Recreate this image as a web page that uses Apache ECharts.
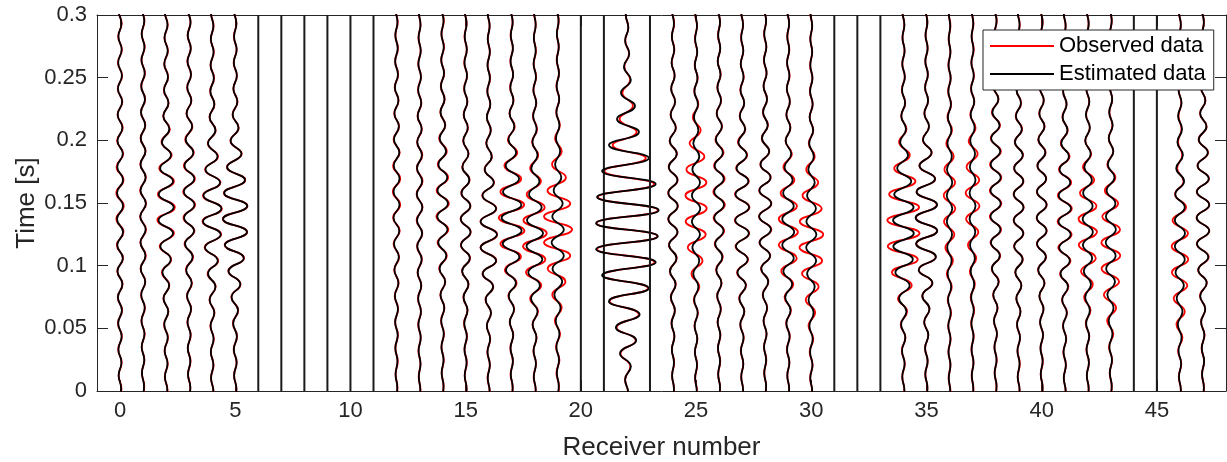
<!DOCTYPE html>
<html>
<head>
<meta charset="utf-8">
<script src="https://cdn.jsdelivr.net/npm/echarts@6/dist/echarts.min.js"></script>
<style>
  html, body { margin: 0; padding: 0; background: #fff; }
  #chart { width: 1227px; height: 462px; }
</style>
</head>
<body>
<div id="chart"></div>
<script>
// receiver positions and the ones with no data (drawn as flat lines)
const receivers = [];
for (let r = 0; r <= 47; r++) receivers.push(r);
const deadReceivers = [6, 7, 8, 9, 10, 11, 20, 21, 23, 31, 32, 33, 44, 45];

const xTickLabels = [0, 5, 10, 15, 20, 25, 30, 35, 40, 45];
const yTickLabels = [0, 0.05, 0.1, 0.15, 0.2, 0.25, 0.3];

// time between successive wiggle extrema [s], and time shift of each trace [ms]
const halfPeriod = 0.0104;
const phaseMs = [2, 4, 1, 3, 0, 2, 0, 0, 0, 0, 0, 0, 3, 1, 4, 2, 0, 3, 1, 4, 0, 0, -1.3, 0,
                 2, 0, 3, 1, 4, 2, 0, 0, 0, 0, 1, 3, 0, 2, 4, 1, 3, 0, 2, 4, 0, 0, 1, 3];

// size of each extremum (left/right alternating), bottom to top, in 1/100 receiver spacing
// observed data (red)
const obs0  = [6,6,7,8,8,9,9,10,11,12,13,14,15,16,16,16,15,15,14,13,12,11,10,10,9,9,8,8,7,7];
const obs1  = [5,5,6,6,7,7,8,9,10,11,12,12,13,13,13,13,12,12,11,11,10,9,9,8,8,7,7,6,6,5];
const obs2  = [6,6,7,7,8,9,10,12,14,18,22,28,34,38,38,36,34,30,24,20,16,13,11,10,9,8,8,7,7,6];
const obs3  = [5,5,6,6,7,8,9,10,12,14,17,20,23,25,26,26,25,23,20,17,14,12,10,9,8,8,7,7,6,6];
const obs4  = [5,5,6,6,7,8,10,12,15,20,26,33,39,42,42,40,36,31,25,19,15,12,10,9,8,7,7,6,6,5];
const obs5  = [5,5,6,7,8,10,13,17,23,30,38,46,52,54,53,49,43,36,28,21,15,12,10,8,7,7,6,6,5,5];
const obs12 = [4,4,5,5,6,6,7,8,9,10,11,13,14,15,16,16,16,15,14,13,11,10,9,8,7,6,6,5,5,4];
const obs13 = [4,4,4,5,5,6,6,7,8,9,10,11,12,13,13,13,13,12,12,11,10,9,8,7,6,6,5,5,4,4];
const obs14 = [4,4,5,5,6,7,8,10,12,15,18,22,25,27,27,26,24,21,18,15,12,10,9,8,7,6,6,5,5,4];
const obs15 = [4,4,5,5,6,7,8,10,13,16,19,21,22,22,21,19,17,15,13,11,10,9,8,7,6,6,5,5,4,4];
const obs16 = [4,5,5,6,7,8,10,14,20,27,33,36,37,36,33,28,23,18,14,11,9,8,7,6,6,5,5,4,4,4];
const obs17 = [4,5,5,6,7,9,11,15,21,30,40,49,55,56,54,49,41,32,24,17,13,10,8,7,6,6,5,5,4,4];
const obs18 = [4,5,5,6,8,10,14,20,28,38,46,51,52,49,43,35,27,20,15,12,10,8,7,6,6,5,5,4,4,4];
const obs19 = [5,6,7,8,10,13,17,24,33,44,54,60,62,60,54,45,35,25,17,12,9,7,6,6,5,5,4,4,4,4];
const obs22 = [5,8,15,28,38,45,52,75,92,105,120,130,132,132,134,126,118,98,82,62,42,32,26,20,14,11,9,7,6,5];
const obs24 = [4,4,5,5,6,7,8,10,12,14,16,18,20,21,21,21,20,19,17,15,13,11,9,8,7,6,6,5,5,4];
const obs25 = [4,4,5,5,6,7,8,10,14,20,28,36,42,45,46,46,45,42,36,28,20,14,10,8,7,6,5,5,4,4];
const obs26 = [4,4,5,5,6,7,8,9,11,13,16,19,22,24,25,25,24,22,19,16,13,11,9,8,7,6,5,5,4,4];
const obs27 = [4,4,5,6,7,8,10,13,17,22,26,29,31,32,32,31,29,26,22,18,14,11,9,8,7,6,5,5,4,4];
const obs28 = [4,4,5,5,6,7,9,11,14,18,22,25,27,27,27,26,24,21,18,15,12,10,8,7,6,6,5,5,4,4];
const obs29 = [4,4,5,6,7,9,12,16,22,30,37,41,42,41,38,33,27,21,16,12,10,8,7,6,6,5,5,4,4,4];
const obs30 = [4,5,6,7,9,12,17,24,32,40,47,51,52,50,45,38,30,22,15,11,9,7,6,6,5,5,4,4,4,4];
const obs34 = [4,5,6,7,9,12,16,24,36,50,62,68,70,70,68,62,52,40,28,19,13,10,8,7,6,5,5,4,4,4];
const obs35 = [4,5,5,6,8,10,13,18,25,33,40,44,46,46,45,43,38,31,23,16,11,9,7,6,6,5,5,4,4,4];
const obs36 = [4,4,4,5,5,6,7,8,10,12,15,18,21,24,25,25,24,22,18,14,11,9,7,6,5,5,4,4,4,3];
const obs37 = [4,4,4,5,5,6,7,8,10,12,16,20,25,28,30,30,29,26,22,17,13,10,8,7,6,5,5,4,4,4];
const obs38 = [4,4,5,5,6,7,9,11,14,17,20,22,24,25,25,25,25,24,23,21,19,16,13,11,9,7,6,5,5,4];
const obs39 = [4,4,5,5,6,7,8,10,12,15,18,20,21,22,22,22,21,20,19,17,15,13,11,9,8,7,6,5,5,4];
const obs40 = [4,4,5,5,6,7,8,10,13,16,19,21,22,22,22,21,20,19,17,15,13,11,9,8,7,6,5,5,4,4];
const obs41 = [4,4,5,6,7,8,10,12,16,20,25,28,30,31,31,30,28,25,21,17,13,10,8,7,6,5,5,4,4,4];
const obs42 = [4,4,5,6,7,9,12,16,22,29,35,39,40,40,38,34,28,21,15,11,9,7,6,6,5,5,4,4,4,4];
const obs43 = [4,5,6,8,11,16,23,30,36,40,41,41,40,37,32,26,20,15,11,9,7,6,6,5,5,4,4,4,4,4];
const obs46 = [4,5,6,8,11,15,21,27,32,35,36,36,35,32,27,21,16,12,10,8,7,6,6,5,5,4,4,4,4,4];
const obs47 = [4,4,5,6,7,8,10,13,17,21,25,27,28,28,28,27,26,24,22,19,16,13,11,9,7,6,5,5,4,4];

// estimated data (black)
const est0  = [5,6,6,7,7,8,8,9,10,11,12,12,13,13,13,13,13,12,12,11,10,10,9,9,8,8,7,7,6,6];
const est1  = [4,5,5,6,6,7,7,8,9,10,10,11,11,12,12,11,11,11,10,10,9,9,8,8,7,7,6,6,5,5];
const est2  = [5,5,6,6,7,8,9,11,13,16,20,25,30,33,33,32,30,26,21,18,14,12,10,9,8,8,7,7,6,6];
const est3  = [5,5,5,6,6,7,8,9,11,13,15,18,21,22,23,23,22,20,18,15,13,11,9,8,8,7,7,6,6,5];
const est4  = [5,5,5,6,6,7,9,11,14,18,24,31,37,40,40,38,34,29,23,18,14,11,9,8,7,7,6,6,5,5];
const est5  = [5,5,6,6,7,9,12,16,22,29,37,45,51,53,52,48,42,35,27,20,14,11,9,8,7,6,6,5,5,5];
const est12 = [3,4,4,5,5,6,6,7,8,9,10,11,12,13,13,13,13,12,12,11,10,9,8,7,6,6,5,5,4,4];
const est13 = [3,3,4,4,5,5,6,6,7,8,9,10,11,11,12,12,11,11,10,10,9,8,7,6,6,5,5,4,4,3];
const est14 = [4,4,4,5,5,6,7,9,11,13,16,19,21,23,23,22,20,18,15,13,11,9,8,7,6,6,5,5,4,4];
const est15 = [4,4,4,5,5,6,8,9,12,15,18,20,21,21,20,18,16,14,12,10,9,8,7,6,6,5,5,4,4,4];
const est16 = [4,4,5,5,6,8,10,13,19,26,32,35,36,35,32,27,22,17,13,10,9,8,7,6,5,5,5,4,4,4];
const est17 = [4,4,5,5,6,8,10,13,18,25,33,39,43,44,42,38,32,26,19,14,11,9,7,6,6,5,5,4,4,4];
const est18 = [4,4,5,5,7,9,12,16,22,28,33,36,36,34,30,25,20,15,12,10,8,7,6,6,5,5,4,4,4,3];
const est19 = [4,4,5,6,7,9,12,15,19,23,26,27,26,24,21,18,15,12,10,8,7,6,6,5,5,4,4,4,3,3];
const est22 = [5,8,17,30,40,48,55,78,95,108,125,134,134,134,138,130,125,108,95,78,52,43,35,26,17,13,10,8,6,5];
const est24 = [4,4,4,5,6,6,8,9,11,13,15,17,19,20,20,20,19,18,16,14,12,10,9,8,7,6,5,5,4,4];
const est25 = [3,4,4,5,5,6,7,8,10,12,14,16,17,18,18,18,17,16,14,12,10,9,8,7,6,5,5,4,4,3];
const est26 = [4,4,4,5,5,6,7,8,10,12,14,17,19,21,21,21,20,19,16,14,12,10,8,7,6,6,5,4,4,4];
const est27 = [4,4,5,5,6,8,9,12,16,20,24,27,29,30,30,29,27,24,20,16,13,10,9,7,6,6,5,4,4,4];
const est28 = [4,4,4,5,6,7,8,10,13,17,21,24,25,26,26,25,23,20,17,14,11,9,8,7,6,5,5,4,4,4];
const est29 = [4,4,5,5,6,8,10,13,17,21,24,26,26,26,24,22,19,16,13,11,9,8,7,6,5,5,4,4,4,4];
const est30 = [4,4,5,5,6,8,10,12,15,18,21,22,22,21,20,18,15,13,11,9,8,7,6,5,5,4,4,4,4,3];
const est34 = [4,5,5,6,8,10,13,19,27,35,41,44,45,45,44,40,34,27,20,14,11,9,7,6,6,5,5,4,4,4];
const est35 = [4,5,5,6,8,10,13,18,26,34,41,45,47,47,46,43,37,30,22,15,11,9,7,6,6,5,5,4,4,4];
const est36 = [3,3,4,4,4,5,5,6,7,8,9,10,11,12,12,12,12,11,10,9,8,7,6,5,5,4,4,3,3,3];
const est37 = [3,3,4,4,4,5,5,6,7,8,10,11,12,13,13,13,13,12,11,10,9,8,7,6,5,5,4,4,3,3];
const est38 = [4,4,4,5,6,7,8,10,13,16,18,20,21,22,22,22,22,21,20,19,17,14,12,10,8,7,6,5,4,4];
const est39 = [4,4,4,5,6,7,8,10,12,14,17,19,20,21,21,21,20,19,18,16,14,12,10,9,8,7,6,5,4,4];
const est40 = [4,4,4,5,6,7,8,10,12,15,18,20,21,21,21,20,19,18,16,14,12,10,9,8,7,6,5,4,4,4];
const est41 = [4,4,5,5,6,7,9,11,14,18,22,24,26,27,27,26,24,22,18,15,12,9,8,7,6,5,5,4,4,4];
const est42 = [4,4,5,5,6,7,9,11,14,17,19,21,22,22,21,20,18,15,13,11,9,8,7,6,5,5,4,4,4,4];
const est43 = [4,4,5,6,7,9,12,15,18,20,21,22,22,21,20,18,16,13,11,9,8,7,6,5,5,4,4,4,4,3];
const est46 = [4,4,5,6,7,9,11,14,17,19,21,22,22,22,21,20,18,16,13,11,9,8,7,6,5,5,4,4,4,4];
const est47 = [4,4,5,5,6,8,10,12,16,20,23,26,27,27,27,26,25,23,21,18,15,12,10,8,7,6,5,4,4,4];

const observed = {0: obs0, 1: obs1, 2: obs2, 3: obs3, 4: obs4, 5: obs5, 12: obs12, 13: obs13,
  14: obs14, 15: obs15, 16: obs16, 17: obs17, 18: obs18, 19: obs19, 22: obs22, 24: obs24,
  25: obs25, 26: obs26, 27: obs27, 28: obs28, 29: obs29, 30: obs30, 34: obs34, 35: obs35,
  36: obs36, 37: obs37, 38: obs38, 39: obs39, 40: obs40, 41: obs41, 42: obs42, 43: obs43,
  46: obs46, 47: obs47};
const estimated = {0: est0, 1: est1, 2: est2, 3: est3, 4: est4, 5: est5, 12: est12, 13: est13,
  14: est14, 15: est15, 16: est16, 17: est17, 18: est18, 19: est19, 22: est22, 24: est24,
  25: est25, 26: est26, 27: est27, 28: est28, 29: est29, 30: est30, 34: est34, 35: est35,
  36: est36, 37: est37, 38: est38, 39: est39, 40: est40, 41: est41, 42: est42, 43: est43,
  46: est46, 47: est47};

// wiggle trace: extrema alternate right/left of the receiver position
function traceData(r, amps) {
  if (!amps) return [[r, 0], [r, 0.3]];
  const pts = [];
  const t0 = phaseMs[r] / 1000;
  for (let k = -1; k <= amps.length; k++) {
    const a = amps[Math.min(Math.max(k, 0), amps.length - 1)] / 100;
    const side = (k % 2 === 0) ? 1 : -1;
    pts.push([r + side * a, t0 + k * halfPeriod]);
  }
  return pts;
}

const axisColor = '#262626';
const font = '"Liberation Sans", Arial, Helvetica, sans-serif';

const series = [];
receivers.forEach(r => {
  const dead = deadReceivers.indexOf(r) >= 0;
  if (!dead) {
    series.push({
      name: 'Observed data', type: 'line', data: traceData(r, observed[r]),
      smooth: 0.5, symbol: 'none', color: '#ff0000',
      lineStyle: { color: '#ff0000', width: 1.8 }, z: 2
    });
  }
  series.push({
    name: 'Estimated data', type: 'line', data: traceData(r, dead ? null : estimated[r]),
    smooth: 0.5, symbol: 'none', color: '#000000',
    lineStyle: { color: dead ? '#1a1a1a' : '#000000', width: dead ? 2 : 1.8 }, z: 3
  });
});

const chart = echarts.init(document.getElementById('chart'));
chart.setOption({
  animation: false,
  backgroundColor: '#ffffff',
  textStyle: { fontFamily: font },
  grid: { left: 97, top: 15, width: 1129, height: 376, containLabel: false, outerBoundsMode: 'none' },
  legend: {
    data: ['Observed data', 'Estimated data'],
    orient: 'vertical',
    left: 983, top: 30,
    backgroundColor: '#ffffff',
    borderColor: axisColor, borderWidth: 1,
    padding: [5, 8, 5, 7],
    itemGap: 6,
    itemWidth: 64, itemHeight: 2,
    icon: 'rect',
    textStyle: { fontSize: 22, color: '#000', fontFamily: font }
  },
  xAxis: [{
    type: 'value', min: -1, max: 48,
    name: 'Receiver number', nameLocation: 'middle', nameGap: 44, nameMoveOverlap: false,
    nameTextStyle: { fontSize: 26, color: axisColor, fontFamily: font },
    axisLine: { onZero: false, lineStyle: { color: axisColor, width: 1 } },
    axisTick: { inside: true, length: 11, customValues: xTickLabels, lineStyle: { color: axisColor } },
    axisLabel: { customValues: xTickLabels, fontSize: 22, color: axisColor, margin: 9 },
    splitLine: { show: false }
  }, {
    type: 'value', min: -1, max: 48, position: 'top',
    axisLine: { onZero: false, lineStyle: { color: axisColor, width: 1 } },
    axisTick: { inside: true, length: 11, customValues: xTickLabels, lineStyle: { color: axisColor } },
    axisLabel: { show: false },
    splitLine: { show: false }
  }],
  yAxis: [{
    type: 'value', min: 0, max: 0.3, interval: 0.05,
    name: 'Time [s]', nameLocation: 'middle', nameGap: 57, nameMoveOverlap: false,
    nameTextStyle: { fontSize: 26, color: axisColor, fontFamily: font },
    axisLine: { onZero: false, lineStyle: { color: axisColor, width: 1 } },
    axisTick: { inside: true, length: 11, lineStyle: { color: axisColor } },
    axisLabel: {
      fontSize: 22, color: axisColor, margin: 10,
      formatter: v => {
        const hit = yTickLabels.find(t => Math.abs(t - v) < 1e-9);
        return hit === undefined ? '' : String(hit);
      }
    },
    splitLine: { show: false }
  }, {
    type: 'value', min: 0, max: 0.3, interval: 0.05, position: 'right',
    axisLine: { onZero: false, lineStyle: { color: axisColor, width: 1 } },
    axisTick: { inside: true, length: 11, lineStyle: { color: axisColor } },
    axisLabel: { show: false },
    splitLine: { show: false }
  }],
  series: series
});
</script>
</body>
</html>
